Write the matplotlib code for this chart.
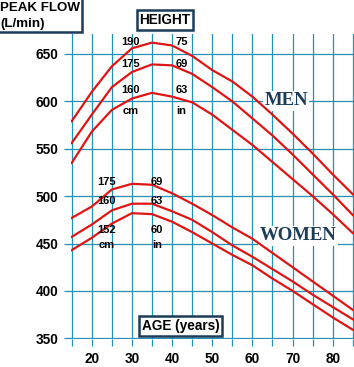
import matplotlib.pyplot as plt
from matplotlib.patches import Rectangle

# peak flow (L/min) by age
ages = [15, 20, 25, 30, 35, 40, 45, 50, 55, 60, 65, 70, 75, 80, 85]

men_190 = [579, 610, 637, 656, 662, 659, 648, 633, 621, 605, 586, 566, 545, 523, 502]
men_175 = [556, 586, 615, 631, 639, 638, 629, 615, 600, 582, 564, 544, 523, 502, 480]
men_160 = [535, 568, 591, 603, 609, 605, 599, 586, 570, 554, 536, 518, 500, 481, 461]

women_175 = [477, 489, 507, 513, 512, 503, 492, 480, 467, 455, 440, 425, 410, 395, 380]
women_160 = [457, 470, 485, 492, 492, 484, 475, 462, 448, 436, 423, 410, 396, 383, 370]
women_152 = [443, 456, 471, 482, 481, 473, 462, 450, 438, 427, 413, 400, 386, 372, 359]

men_cm = ['190', '175', '160', 'cm']
men_in = ['75', '69', '63', 'in']
women_cm = ['175', '160', '152', 'cm']
women_in = ['69', '63', '60', 'in']

yticks = [350, 400, 450, 500, 550, 600, 650]
xticks = list(range(15, 90, 5))
xlabels = ['' if a % 10 else str(a) for a in xticks]

GRID = '#2291b3'
RED = '#dd1515'
NAVY = '#1c3c58'

plt.rcParams['font.family'] = 'Liberation Sans'
plt.rcParams['font.weight'] = 'bold'

fig = plt.figure(figsize=(3.54, 3.67), dpi=100)
ax = fig.add_axes([70.9 / 354, (367 - 339.2) / 367, (354 - 70.9) / 354, (339.2 - 34.1) / 367])

for s in [men_190, men_175, men_160, women_175, women_160, women_152]:
    ax.plot(ages, s, color=RED, lw=1.6, zorder=3)

ax.set_xlim(14.8, 85.3)
ax.set_ylim(349, 671)
ax.set_xticks(xticks)
ax.set_xticklabels(xlabels)
ax.set_yticks(yticks)
ax.grid(True, color=GRID, lw=0.9, zorder=1)
ax.set_axisbelow(True)
ax.tick_params(direction='out', length=5, width=0.9, color=GRID, labelsize=9.8, pad=4)
for sp in ax.spines.values():
    sp.set_visible(False)

# height labels
fs = 8
for lab, y in zip(men_cm, [659.5, 636.6, 608.5, 586.7]):
    ax.text(29.6, y, lab, ha='center', va='baseline', fontsize=fs, zorder=4)
for lab, y in zip(men_in, [659.5, 636.6, 608.5, 586.7]):
    ax.text(42.4, y, lab, ha='center', va='baseline', fontsize=fs, zorder=4)
for lab, y in zip(women_cm, [511.8, 491.8, 461.6, 445]):
    ax.text(23.6, y, lab, ha='center', va='baseline', fontsize=fs, zorder=4)
for lab, y in zip(women_in, [511.8, 491.8, 461.6, 445]):
    ax.text(36.2, y, lab, ha='center', va='baseline', fontsize=fs, zorder=4)

ax.text(68.4, 600.5, 'MEN', ha='center', va='center', fontsize=13.5, family='Liberation Serif',
        color=NAVY, zorder=2, bbox=dict(facecolor='white', edgecolor='none', pad=1))
ax.text(71.4, 458, 'WOMEN', ha='center', va='center', fontsize=13.5, family='Liberation Serif',
        color=NAVY, zorder=2, bbox=dict(facecolor='white', edgecolor='none', pad=1))

box = dict(boxstyle='square,pad=0.22', facecolor='white', edgecolor=NAVY, lw=1.8)
fig.text(165 / 354, 1 - 20 / 367, 'HEIGHT', ha='center', va='center', fontsize=9.8, bbox=box)
fig.text(180.4 / 354, 1 - 326.2 / 367, 'AGE (years)', ha='center', va='center', fontsize=9.8, bbox=box)

fig.patches.append(Rectangle((-0.02, 1 - 32.3 / 367), 82 / 354 + 0.02, 0.2, transform=fig.transFigure,
                             facecolor='white', edgecolor=NAVY, lw=1.8))
fig.text(0, 1 - 8 / 367, 'PEAK FLOW', ha='left', va='center', fontsize=9.6)
fig.text(0, 1 - 24 / 367, '(L/min)', ha='left', va='center', fontsize=9.6)

fig.savefig('out.png', dpi=100)
